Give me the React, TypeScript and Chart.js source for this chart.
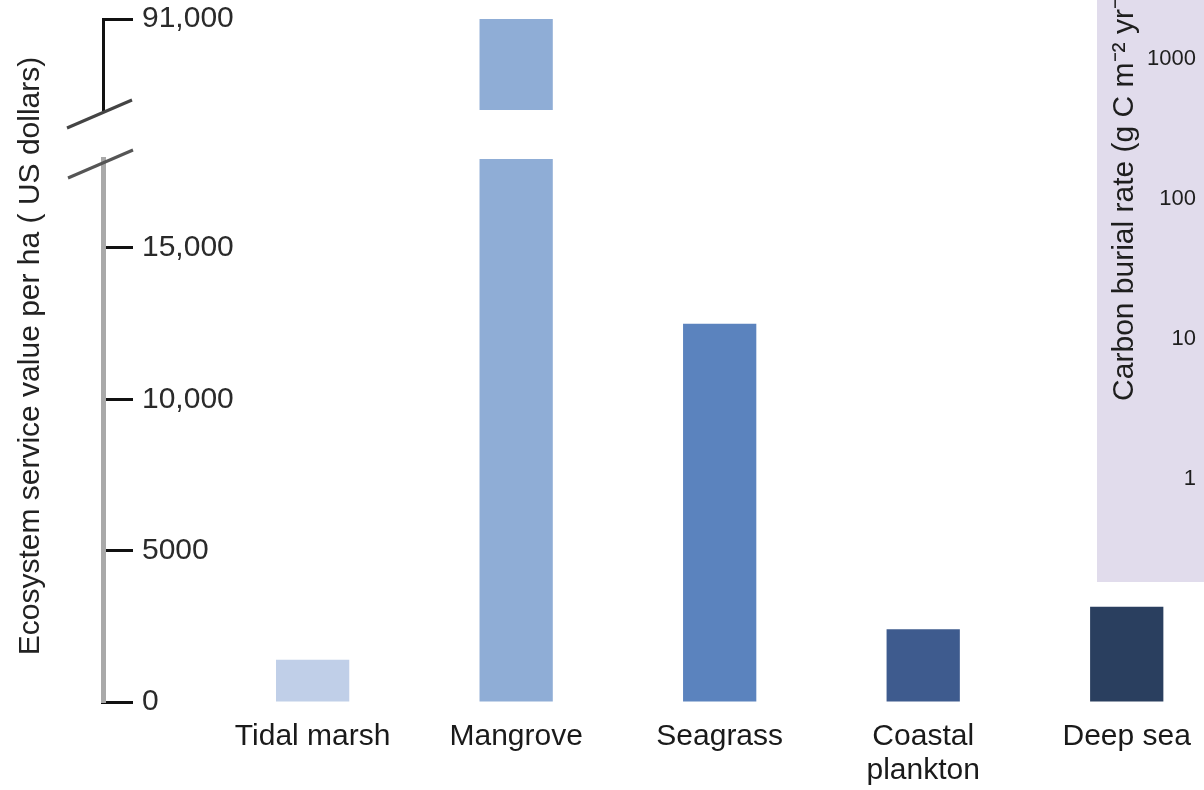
import React, { useEffect, useRef } from "react";
import { Chart, registerables } from "chart.js";

Chart.register(...registerables);

// ---- data ----
const categories: (string | string[])[] = ["Tidal marsh", "Mangrove", "Seagrass", ["Coastal", "plankton"], "Deep sea"];
const serviceValues: number[] = [1400, 91000, 12500, 2400, 3150];
const barColors: string[] = ["#c0cfe8", "#8fadd6", "#5b83be", "#3e5b8e", "#2a3f5f"];
const lowerTickValues: number[] = [0, 5000, 10000, 15000];
const lowerTickLabels: string[] = ["0", "5000", "10,000", "15,000"];
const upperTickValues: number[] = [91000];
const upperTickLabels: string[] = ["91,000"];
const yTitle = "Ecosystem service value per ha ( US dollars)";
const insetTickValues: number[] = [1, 10, 100, 1000];
const insetTickLabels: string[] = ["1", "10", "100", "1000"];
const insetTitle = "Carbon burial rate (g C m\u207B\u00B2 yr\u207B\u00B9)";

// ---- layout constants ----
const FONT = "'Liberation Sans', Arial, Helvetica, sans-serif";
const X_MIN = -1.03;
const X_MAX = 4.36;
const LOWER_MAX = 17940;
const UPPER_MIN = 88000;
const UPPER_MAX = 91000;
const AXIS_W = 103;

const points = serviceValues.map((v, i) => ({ x: i, y: v }));

function xScale(showLabels: boolean) {
  return {
    type: "linear" as const,
    min: X_MIN,
    max: X_MAX,
    offset: false,
    display: showLabels,
    afterBuildTicks: (s: any) => {
      s.ticks = categories.map((_, i) => ({ value: i }));
    },
    afterFit: (s: any) => {
      if (showLabels) s.height = 88;
      s.paddingLeft = 0;
      s.paddingRight = 0;
    },
    grid: { display: false, drawTicks: false, offset: false },
    border: { display: false },
    ticks: {
      padding: 17,
      color: "#1a1a1a",
      font: { family: FONT, size: 30, lineHeight: 1.15 },
      maxRotation: 0,
      autoSkip: false,
      callback: (v: any) => categories[Math.round(v)] ?? "",
    },
  };
}

function yScale(min: number, max: number, tv: number[], tl: string[], borderColor: string, borderWidth: number) {
  return {
    type: "linear" as const,
    position: "left" as const,
    min,
    max,
    afterBuildTicks: (s: any) => {
      s.ticks = tv.map((v) => ({ value: v }));
    },
    afterFit: (s: any) => {
      s.width = AXIS_W;
      s.paddingTop = 0;
      s.paddingBottom = 0;
    },
    grid: {
      display: true,
      drawOnChartArea: false,
      drawTicks: true,
      tickLength: -30,
      tickColor: "#111",
      tickWidth: 3,
    },
    border: { display: true, color: borderColor, width: borderWidth },
    ticks: {
      mirror: true,
      padding: 39,
      color: "#2a2a2a",
      font: { family: FONT, size: 30 },
      callback: (v: any) => {
        const k = tv.indexOf(v);
        return k >= 0 ? tl[k] : "";
      },
    },
  };
}

const lowerDecor = {
  id: "lowerDecor",
  afterDraw(chart: any) {
    const ctx = chart.ctx;
    const ys = chart.scales.y;
    const x0 = ys.right;
    const y0 = chart.chartArea.top + 5;
    ctx.save();
    ctx.strokeStyle = "#555";
    ctx.lineWidth = 3;
    ctx.beginPath();
    ctx.moveTo(x0 - 35, y0 + 14);
    ctx.lineTo(x0 + 30, y0 - 14);
    ctx.stroke();
    ctx.translate(31, 356);
    ctx.rotate(-Math.PI / 2);
    ctx.fillStyle = "#222";
    ctx.font = `30px ${FONT}`;
    ctx.textAlign = "center";
    ctx.textBaseline = "middle";
    ctx.fillText(yTitle, 0, 0);
    ctx.restore();
  },
};

const upperDecor = {
  id: "upperDecor",
  afterDraw(chart: any) {
    const ctx = chart.ctx;
    const ys = chart.scales.y;
    const x0 = ys.right;
    const y0 = chart.chartArea.bottom + 4;
    ctx.save();
    ctx.strokeStyle = "#444";
    ctx.lineWidth = 3;
    ctx.beginPath();
    ctx.moveTo(x0 - 36, y0 + 14);
    ctx.lineTo(x0 + 29, y0 - 14);
    ctx.stroke();
    ctx.restore();
  },
};

export default function App() {
  const lowerRef = useRef<HTMLCanvasElement>(null);
  const upperRef = useRef<HTMLCanvasElement>(null);
  const insetRef = useRef<HTMLCanvasElement>(null);

  useEffect(() => {
    const dataset = () => ({
      data: points,
      backgroundColor: barColors,
      borderWidth: 0,
      categoryPercentage: 1,
      barPercentage: 0.36,
    });

    const lower = new Chart(lowerRef.current!, {
      type: "bar",
      data: { datasets: [dataset()] },
      options: {
        responsive: false,
        animation: false,
        devicePixelRatio: 1,
        layout: { autoPadding: false, padding: { top: 159, right: 4, left: 0, bottom: 0 } },
        plugins: { legend: { display: false }, tooltip: { enabled: false } },
        scales: {
          x: xScale(true),
          y: yScale(0, LOWER_MAX, lowerTickValues, lowerTickLabels, "#a9a9a9", 5),
        },
      },
      plugins: [lowerDecor],
    } as any);

    const upper = new Chart(upperRef.current!, {
      type: "bar",
      data: { datasets: [dataset()] },
      options: {
        responsive: false,
        animation: false,
        devicePixelRatio: 1,
        layout: { autoPadding: false, padding: { top: 19, right: 4, left: 0, bottom: 25 } },
        plugins: { legend: { display: false }, tooltip: { enabled: false } },
        scales: {
          x: xScale(false),
          y: yScale(UPPER_MIN, UPPER_MAX, upperTickValues, upperTickLabels, "#111", 3),
        },
      },
      plugins: [upperDecor],
    } as any);

    const inset = new Chart(insetRef.current!, {
      type: "bar",
      data: { labels: ["a"], datasets: [{ data: [null] }] },
      options: {
        responsive: false,
        animation: false,
        devicePixelRatio: 1,
        layout: { autoPadding: false, padding: 0 },
        plugins: { legend: { display: false }, tooltip: { enabled: false } },
        scales: {
          x: { display: false },
          y: {
            type: "logarithmic",
            min: 0.184,
            max: 73000,
            afterBuildTicks: (s: any) => {
              s.ticks = insetTickValues.map((v) => ({ value: v }));
            },
            afterFit: (s: any) => {
              s.width = 110;
              s.paddingTop = 0;
              s.paddingBottom = 0;
            },
            grid: { display: false, drawTicks: false },
            border: { display: false },
            ticks: {
              padding: 11,
              color: "#1e1e1e",
              font: { family: FONT, size: 22 },
              callback: (v: any) => {
                const k = insetTickValues.indexOf(v);
                return k >= 0 ? insetTickLabels[k] : "";
              },
            },
            title: {
              display: true,
              text: insetTitle,
              color: "#1e1e1e",
              font: { family: FONT, size: 30 },
              padding: { top: 10, bottom: 0 },
            },
          },
        },
      },
    } as any);

    return () => {
      lower.destroy();
      upper.destroy();
      inset.destroy();
    };
  }, []);

  return (
    <div
      style={{
        position: "fixed",
        left: 0,
        top: 0,
        width: 1204,
        height: 790,
        overflow: "hidden",
        background: "#fff",
      }}
    >
      <canvas
        ref={lowerRef}
        width={1204}
        height={790}
        style={{ position: "absolute", left: 0, top: 0, width: 1204, height: 790 }}
      />
      <canvas
        ref={upperRef}
        width={1204}
        height={135}
        style={{ position: "absolute", left: 0, top: 0, width: 1204, height: 135 }}
      />
      <canvas
        ref={insetRef}
        width={200}
        height={784}
        style={{ position: "absolute", left: 1097, top: -202, width: 200, height: 784, background: "#e1dcec" }}
      />
    </div>
  );
}
